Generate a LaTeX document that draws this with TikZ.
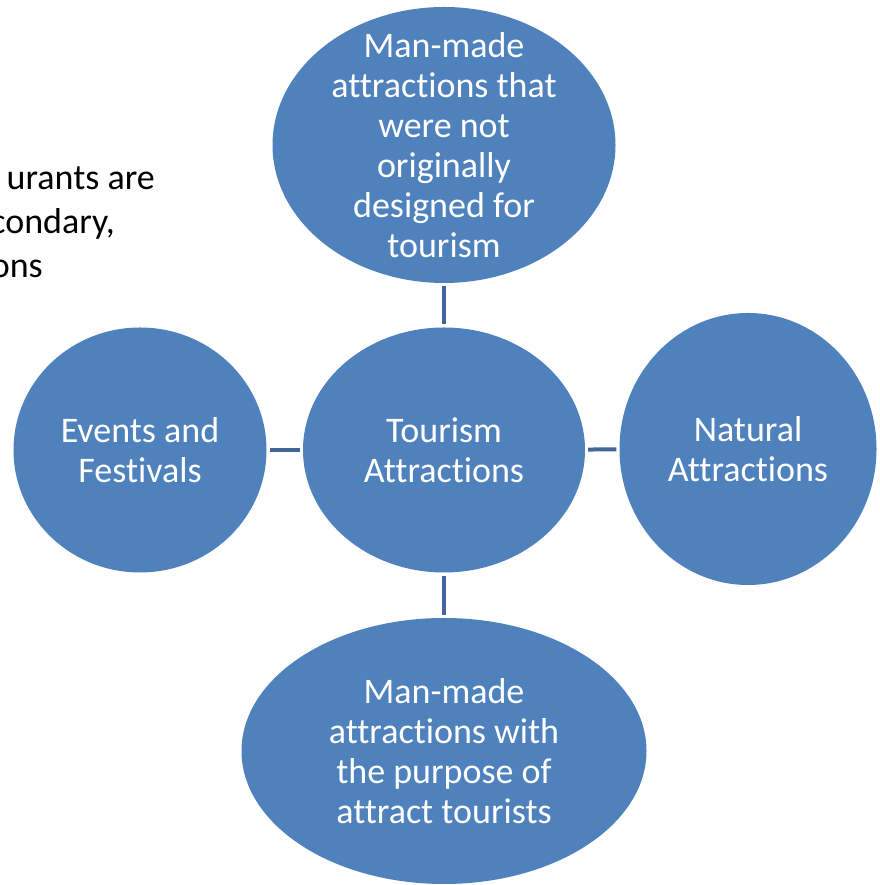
\documentclass[tikz,border=0pt]{standalone}
\usepackage{fontspec}
\setmainfont{Carlito}[Ligatures={NoCommon}]
\usepackage{tikz}
\usetikzlibrary{shapes,positioning,calc}
\definecolor{tblue}{HTML}{4F81BD}
\definecolor{tline}{HTML}{41679A}

\begin{document}
\begin{tikzpicture}[x=1pt, y=1pt]
\tikzstyle{main}=[ellipse, fill=tblue, draw=none, inner sep=-60pt, node distance=304pt, text=white, align=center, font=\fontsize{36}{40}\selectfont]
\tikzstyle{side}=[inner sep=0pt, anchor=base east, text=black, font=\fontsize{36}{40}\selectfont]
\tikzstyle{connect}=[-, line width=4pt, draw=tline, shorten >=3pt, shorten <=3pt]

  \useasboundingbox (0,0) rectangle (879,885);

  \node[side] (line1) at (155,695) {urants are};
  \node[side] (line2) at (115,651) {condary,};
  \node[side] (line3) at (43,607)  {ons};

  \node[main, minimum width=282pt, minimum height=245pt] (tourism) at (444,435) {Tourism\\Attractions};

  \node[main, minimum width=343pt, minimum height=276pt] (notdesigned) [above of =tourism, yshift=1pt]  {Man-made\\attractions that\\were not\\originally\\designed for\\tourism};
  \node[main, minimum width=405pt, minimum height=266pt] (purpose)     [below of =tourism, yshift=3pt]  {Man-made\\attractions with\\the purpose of\\attract tourists};
  \node[main, minimum width=253pt, minimum height=245pt] (events)      [left of =tourism]               {Events and\\Festivals};
  \node[main, minimum width=257pt, minimum height=272pt] (natural)     [right of =tourism, yshift=1pt]  {Natural\\Attractions};

  \path (tourism) edge [connect] (notdesigned);
  \path (tourism) edge [connect] (purpose);
  \path (tourism) edge [connect] (events);
  \path (tourism) edge [connect] (natural);

\end{tikzpicture}
\end{document}
